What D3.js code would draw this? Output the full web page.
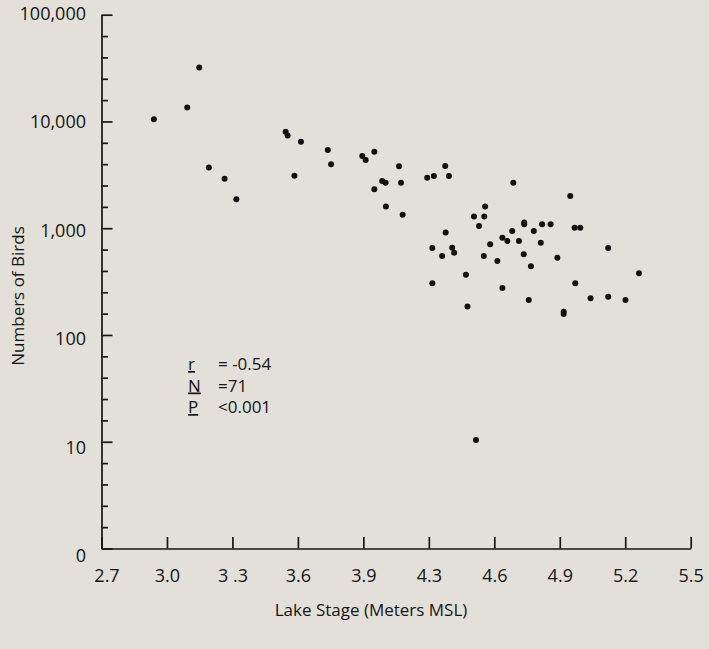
<!DOCTYPE html>
<html>
<head>
<meta charset="utf-8">
<script src="https://cdn.jsdelivr.net/npm/d3@7"></script>
<style>
    body { margin: 0; background: #e2e0d9; }
    svg { display: block; font-family: "Open Sans", sans-serif; }
</style>
</head>
<body>
<div id="chart"></div>
<script>
// lake stage (m MSL) and bird counts
const stage = [
    2.94, 3.093, 3.148, 3.192, 3.264, 3.318, 3.544, 3.553, 3.584, 3.614,
    3.737, 3.752, 3.895, 3.914, 3.967, 4.015, 4.036, 3.967, 4.118, 4.13,
    4.038, 4.14, 4.29, 4.323, 4.375, 4.392, 4.558, 4.507, 4.554, 4.53,
    4.687, 4.948, 4.737, 4.737, 4.819, 4.858, 4.377, 4.682, 4.781, 4.968,
    4.994, 4.637, 4.66, 4.713, 4.581, 4.813, 4.316, 4.407, 4.416, 4.361,
    4.552, 4.614, 4.735, 4.889, 5.122, 4.768, 4.47, 5.263, 4.316, 4.971,
    4.637, 5.041, 5.122, 5.201, 4.758, 4.477, 4.918, 4.918, 4.516
];
const birds = [
    10500, 13500, 32000, 3700, 2900, 1870, 8000, 7400, 3100, 6450,
    5400, 3970, 4750, 4350, 5200, 2770, 2670, 2320, 3800, 2670,
    1600, 1340, 2970, 3080, 3830, 3080, 1600, 1290, 1290, 1050,
    2670, 2000, 1130, 1090, 1090, 1090, 910, 940, 940, 1010,
    1010, 815, 760, 760, 707, 730, 653, 657, 590, 549,
    549, 493, 570, 530, 653, 440, 367, 378, 305, 305,
    275, 221, 228, 213, 213, 185, 165, 157, 10.4
];

const xTickValues = [2.7, 3.0, 3.3, 3.6, 3.9, 4.3, 4.6, 4.9, 5.2, 5.5];
const xTickLabels = ["2.7", "3.0", "3 .3", "3.6", "3.9", "4.3", "4.6", "4.9", "5.2", "5.5"];
const yTickValues = [1, 10, 100, 1000, 10000, 100000];
const yTickLabels = ["0", "10", "100", "1,000", "10,000", "100,000"];
const statNames = ["r", "N", "P"];
const statValues = ["= -0.54", "=71", "<0.001"];

const width = 709, height = 649;
const plotLeft = 101.5, plotRight = 690.7, plotTop = 14.7, plotBottom = 548.5;

const svg = d3
    .select("#chart")
    .append("svg")
    .attr("width", width)
    .attr("height", height);

// ticks are evenly spaced even where the labels jump 3.9 -> 4.3
const step = (plotRight - plotLeft) / (xTickValues.length - 1);
const x = d3
    .scaleLinear()
    .domain(xTickValues)
    .range(xTickValues.map((d, i) => plotLeft + i * step));

const y = d3.scaleLog().domain([1, 100000]).range([plotBottom, plotTop]);
// labels drift slightly below their ticks in the original
const yLabel = d3.scaleLog().domain([1, 100000]).range([556, 13.5]);

// four evenly spaced minor ticks per decade
const minorTicks = d3
    .range(0, 5)
    .flatMap((i) => d3.range(1, 5).map((k) => Math.pow(10, i + k / 5)));

svg.append("g")
    .attr("transform", `translate(${plotLeft},0)`)
    .call(d3.axisLeft(y).tickValues(minorTicks).tickSize(-6.5).tickSizeOuter(0).tickFormat(""))
    .call((g) => g.select(".domain").remove());

svg.append("g")
    .attr("transform", `translate(${plotLeft},0)`)
    .call(d3.axisLeft(y).tickValues(yTickValues).tickSize(-11).tickSizeOuter(0).tickFormat(""));

svg.append("g")
    .attr("transform", `translate(0,${plotBottom})`)
    .call(
        d3
            .axisBottom(x)
            .tickValues(xTickValues)
            .tickSize(-11.5)
            .tickSizeOuter(0)
            .tickPadding(21)
            .tickFormat((d, i) => xTickLabels[i])
    )
    .call((g) =>
        g.selectAll("text")
            .attr("font-size", 18)
            .attr("font-family", "Open Sans")
            .attr("fill", "#151515")
            .attr("dx", (d, i) => (i === 0 ? 5 : 0))
    );

svg.selectAll(".domain, .tick line")
    .attr("stroke", "#151515")
    .attr("stroke-width", 1.7);

svg.selectAll(".ylab")
    .data(yTickValues)
    .join("text")
    .attr("class", "ylab")
    .attr("x", 86)
    .attr("y", (d) => yLabel(d))
    .attr("dy", "0.35em")
    .attr("text-anchor", "end")
    .attr("font-size", 18)
    .attr("fill", "#151515")
    .text((d, i) => yTickLabels[i]);

svg.append("g")
    .selectAll("circle")
    .data(stage)
    .join("circle")
    .attr("cx", (d) => x(d))
    .attr("cy", (d, i) => y(birds[i]))
    .attr("r", 3)
    .attr("fill", "#111");

const stats = svg.append("g").attr("font-size", 17).attr("fill", "#151515");
stats.selectAll(".sname")
    .data(statNames)
    .join("text")
    .attr("class", "sname")
    .attr("x", 188)
    .attr("y", (d, i) => 370 + i * 21.5)
    .attr("text-decoration", "underline")
    .text((d) => d);
stats.selectAll(".sval")
    .data(statValues)
    .join("text")
    .attr("class", "sval")
    .attr("x", 218)
    .attr("y", (d, i) => 370 + i * 21.5)
    .text((d) => d);

svg.append("text")
    .attr("x", 371)
    .attr("y", 616)
    .attr("text-anchor", "middle")
    .attr("font-size", 17)
    .attr("fill", "#151515")
    .text("Lake Stage (Meters MSL)");

svg.append("text")
    .attr("transform", "translate(24,296) rotate(-90)")
    .attr("text-anchor", "middle")
    .attr("font-size", 17)
    .attr("fill", "#151515")
    .text("Numbers of Birds");
</script>
</body>
</html>
